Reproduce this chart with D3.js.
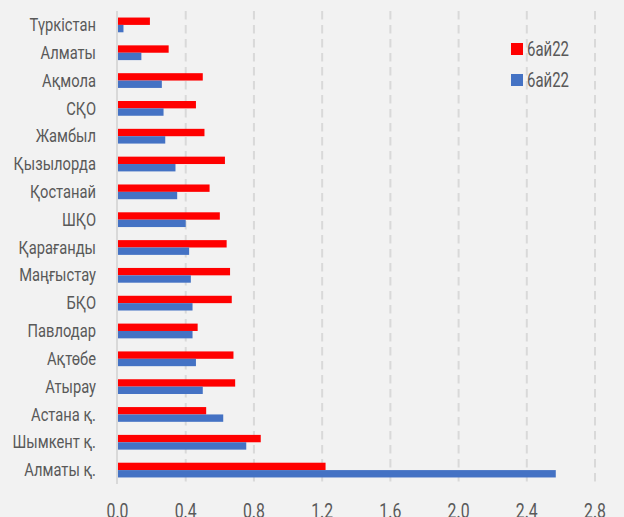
<!DOCTYPE html>
<html>
<head>
<meta charset="utf-8">
<script src="https://cdn.jsdelivr.net/npm/d3@7"></script>
<style>
  html, body { margin: 0; padding: 0; background: #f2f2f2; }
  svg { display: block; font-family: Roboto, "Noto Sans", sans-serif; }
</style>
</head>
<body>
<div class="graph_area"></div>
<script>
// regions, top to bottom
const categories = ["Түркістан", "Алматы", "Ақмола", "СҚО", "Жамбыл", "Қызылорда", "Қостанай", "ШҚО",
  "Қарағанды", "Маңғыстау", "БҚО", "Павлодар", "Ақтөбе", "Атырау", "Астана қ.", "Шымкент қ.", "Алматы қ."]
const seriesNames = ["6ай22", "6ай22"]
const redValues = [0.19, 0.30, 0.50, 0.46, 0.51, 0.63, 0.54, 0.60, 0.64, 0.66, 0.67, 0.47, 0.68, 0.69, 0.52, 0.84, 1.22]
const blueValues = [0.035, 0.14, 0.26, 0.27, 0.28, 0.34, 0.35, 0.40, 0.42, 0.43, 0.44, 0.44, 0.46, 0.50, 0.62, 0.755, 2.57]
const xTicks = [0, 0.4, 0.8, 1.2, 1.6, 2.0, 2.4, 2.8]
const colors = ["#ff0000", "#4472c4"]

const width = 624, height = 517
const margin = { top: 11, left: 117.5, right: 29, bottom: 33 }

const svg = d3.select('.graph_area')
  .append('svg')
  .attr('width', width)
  .attr('height', height)

svg.append('rect').attr('width', width).attr('height', height).attr('fill', '#f2f2f2')

// the original font is a condensed one; squeeze Roboto horizontally to match
function squeeze(fontSize, sample, targetWidth) {
  const t = svg.append('text').attr('font-size', fontSize).text(sample)
  const w = t.node().getComputedTextLength()
  t.remove()
  return targetWidth / w
}
const labelScale = squeeze(17.5, "Қызылорда", 82.5)
const legendScale = squeeze(21, "6ай22", 42)
const tickScale = squeeze(20, "0.0", 22)

const x = d3.scaleLinear()
  .domain([0, 2.8])
  .range([margin.left, width - margin.right])

const y = d3.scaleBand()
  .domain(categories)
  .range([margin.top, height - margin.bottom])
  .paddingInner(0.47)
  .paddingOuter(0.235)

const ySub = d3.scaleBand()
  .domain([0, 1])
  .range([0, y.bandwidth()])

// dashed gridlines
svg.append('g')
  .selectAll('line')
  .data(xTicks.slice(1))
  .enter().append('line')
  .attr('x1', d => x(d)).attr('x2', d => x(d))
  .attr('y1', margin.top).attr('y2', height - margin.bottom)
  .attr('stroke', '#d9d9d9')
  .attr('stroke-width', 2)
  .attr('stroke-dasharray', '8.5,5.5')

// tick labels (the original has them clipped by the bottom edge)
svg.append('g')
  .selectAll('text')
  .data(xTicks)
  .enter().append('text')
  .attr('transform', d => `translate(${x(d)},518) scale(${tickScale},1)`)
  .attr('text-anchor', 'middle')
  .attr('font-size', 20)
  .attr('fill', '#595959')
  .text(d => d.toFixed(1))

const groups = svg.append('g')
  .selectAll('g')
  .data(categories)
  .enter().append('g')
  .attr('transform', d => `translate(0,${y(d)})`)

groups.append('rect')
  .attr('x', x(0))
  .attr('y', ySub(0))
  .attr('height', ySub.bandwidth())
  .attr('width', (d, i) => x(redValues[i]) - x(0))
  .attr('fill', colors[0])

groups.append('rect')
  .attr('x', x(0))
  .attr('y', ySub(1))
  .attr('height', ySub.bandwidth())
  .attr('width', (d, i) => x(blueValues[i]) - x(0))
  .attr('fill', colors[1])

// y axis line
svg.append('line')
  .attr('x1', x(0) - 0.5).attr('x2', x(0) - 0.5)
  .attr('y1', margin.top).attr('y2', height - margin.bottom)
  .attr('stroke', '#d9d9d9')
  .attr('stroke-width', 2)

// category labels
svg.append('g')
  .selectAll('text')
  .data(categories)
  .enter().append('text')
  .attr('transform', d => `translate(96,${y(d) + y.bandwidth() / 2}) scale(${labelScale},1)`)
  .attr('dy', '0.35em')
  .attr('text-anchor', 'end')
  .attr('font-size', 17.5)
  .attr('fill', '#595959')
  .text(d => d)

// legend
const legend = svg.append('g')
  .selectAll('g')
  .data(seriesNames)
  .enter().append('g')
  .attr('transform', (d, i) => `translate(511,${43 + i * 31})`)

legend.append('rect')
  .attr('width', 12).attr('height', 12)
  .attr('fill', (d, i) => colors[i])

legend.append('text')
  .attr('transform', `translate(16,6) scale(${legendScale},1)`)
  .attr('dy', '0.35em')
  .attr('font-size', 21)
  .attr('fill', '#595959')
  .text(d => d)
</script>
</body>
</html>
